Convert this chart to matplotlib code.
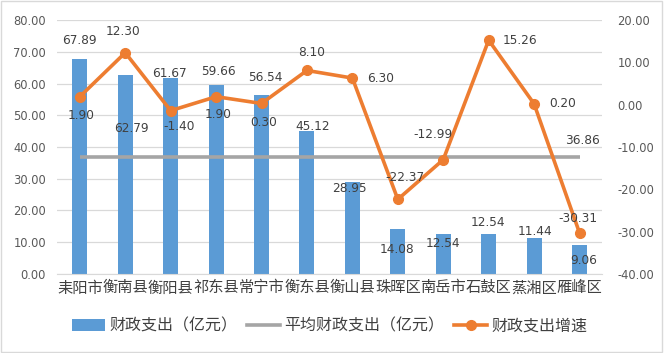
import matplotlib
matplotlib.use("Agg")
import matplotlib.pyplot as plt
from matplotlib.lines import Line2D
from matplotlib.patches import Patch, Rectangle
import numpy as np

plt.rcParams['font.family'] = ['Noto Sans CJK SC', 'DejaVu Sans']

categories = ["耒阳市", "衡南县", "衡阳县", "祁东县", "常宁市", "衡东县",
              "衡山县", "珠晖区", "南岳市", "石鼓区", "蒸湘区", "雁峰区"]
spending = [67.89, 62.79, 61.67, 59.66, 56.54, 45.12, 28.95, 14.08, 12.54, 12.54, 11.44, 9.06]
growth = [1.90, 12.30, -1.40, 1.90, 0.30, 8.10, 6.30, -22.37, -12.99, 15.26, 0.20, -30.31]
average = 36.86

left_ticks = [0, 10, 20, 30, 40, 50, 60, 70, 80]
right_ticks = [-40, -30, -20, -10, 0, 10, 20]

# label offsets in pixels (dx, dy)
bar_lab_off = [(0, 18), (6, -54), (-1, 5), (2, 13), (4, 17), (6, 4),
               (-3, -6), (-1, -20), (0, -9), (-1, 12), (1, 6), (4, -15)]
line_lab_off = [(1, -19), (-2, 21), (8, -16), (2, -18), (2, -19), (5, 18),
                (28, 0), (7, 22), (-10, 25), (31, 0), (29, 0), (-2, 14)]

BLUE = "#5B9BD5"
ORANGE = "#ED7D31"
GRAY = "#A5A5A5"
TXT = "#404040"
TICK = "#595959"

fig = plt.figure(figsize=(6.64, 3.53), dpi=100)
fig.patches.append(Rectangle((0.002, 0.004), 0.995, 0.992, transform=fig.transFigure,
                             fill=False, edgecolor="#D9D9D9", linewidth=1.0))
ax = fig.add_axes([0.086, 0.224, 0.821, 0.719])
ax2 = ax.twinx()

x = np.arange(len(categories))
ax.bar(x, spending, width=0.33, color=BLUE, zorder=2)
ax.plot(x, [average] * len(categories), color=GRAY, linewidth=2.6, zorder=3,
        solid_capstyle='butt')

ax.set_xlim(-0.5, len(categories) - 0.5)
ax.set_ylim(0, 80)
ax.set_yticks(left_ticks)
ax.set_yticklabels([f"{v:.2f}" for v in left_ticks], family="DejaVu Sans")
ax.set_xticks(x)
ax.set_xticklabels(categories, fontsize=11, color=TXT)
ax.tick_params(axis='y', length=0, labelsize=8.3, labelcolor=TICK, pad=8)
ax.tick_params(axis='x', length=0, pad=4)
ax.grid(axis='y', color="#D9D9D9", linewidth=0.9, zorder=0)
ax.set_axisbelow(True)
for s in ["top", "left", "right"]:
    ax.spines[s].set_visible(False)
ax.spines["bottom"].set_color("#D9D9D9")

ax2.plot(x, growth, color=ORANGE, linewidth=2.6, marker='o', markersize=7, zorder=4)
ax2.set_ylim(-40, 20)
ax2.set_yticks(right_ticks)
ax2.set_yticklabels([f"{v:.2f}" for v in right_ticks], family="DejaVu Sans")
ax2.tick_params(axis='y', length=0, labelsize=8.3, labelcolor=TICK, pad=11)
for s in ["top", "left", "right", "bottom"]:
    ax2.spines[s].set_visible(False)

for i, v in enumerate(spending):
    dx, dy = bar_lab_off[i]
    ax.annotate(f"{v:.2f}", xy=(x[i], v), xytext=(dx, dy), textcoords='offset pixels',
                ha='center', va='center', fontsize=8.7, color=TXT,
                family="DejaVu Sans", zorder=6)

for i, v in enumerate(growth):
    dx, dy = line_lab_off[i]
    ax2.annotate(f"{v:.2f}", xy=(x[i], v), xytext=(dx, dy), textcoords='offset pixels',
                 ha='center', va='center', fontsize=8.7, color=TXT,
                 family="DejaVu Sans", zorder=6)

ax.annotate(f"{average:.2f}", xy=(x[-1], average), xytext=(3, 16), textcoords='offset pixels',
            ha='center', va='center', fontsize=8.7, color=TXT, family="DejaVu Sans", zorder=6)

handles = [Patch(facecolor=BLUE, edgecolor='none'),
           Line2D([0], [0], color=GRAY, linewidth=2.6),
           Line2D([0], [0], color=ORANGE, linewidth=2.6, marker='o', markersize=7)]
labels = ["财政支出（亿元）", "平均财政支出（亿元）", "财政支出增速"]
fig.legend(handles, labels, loc='center left', bbox_to_anchor=(0.108, 0.076), ncol=3,
           frameon=False, fontsize=11.5, labelcolor=TXT, handlelength=2.1,
           handletextpad=0.25, columnspacing=0.6, borderpad=0.0, borderaxespad=0.0)

fig.savefig("out.png", dpi=100)
